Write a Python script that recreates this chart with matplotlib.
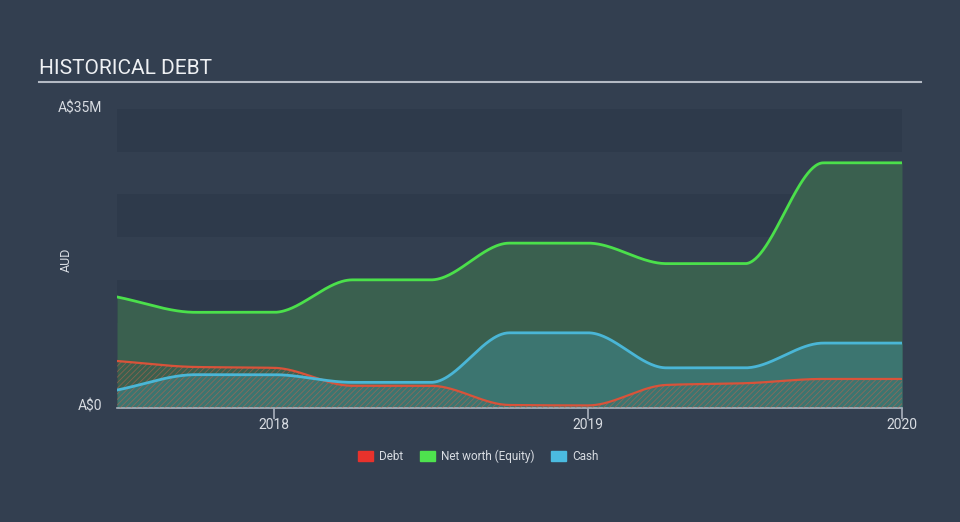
import numpy as np
import matplotlib.pyplot as plt
from matplotlib.patches import Patch

# Data (A$ millions), half-yearly reporting points
dates = [2017.5, 2017.75, 2018.0, 2018.25, 2018.5, 2018.75, 2019.0, 2019.25, 2019.5, 2019.75, 2020.0]
debt = [5.5, 4.8, 4.7, 2.6, 2.6, 0.35, 0.3, 2.7, 2.9, 3.4, 3.4]
equity = [13.0, 11.2, 11.2, 15.0, 15.0, 19.3, 19.3, 16.9, 16.9, 28.7, 28.7]
cash = [2.1, 3.9, 3.9, 3.0, 3.0, 8.8, 8.8, 4.7, 4.7, 7.6, 7.6]

xticks = [2018, 2019, 2020]
xticklabels = ['2018', '2019', '2020']

BG = '#333f50'
BAND = '#2e3a4b'
TXT = '#d8dce2'


def smooth(x, y, n=60):
    # monotone cubic (Fritsch-Carlson) drawing of the curve between points
    x = np.asarray(x, float)
    y = np.asarray(y, float)
    h = np.diff(x)
    d = np.diff(y) / h
    m = np.zeros_like(y)
    m[0], m[-1] = d[0], d[-1]
    for i in range(1, len(y) - 1):
        if d[i - 1] * d[i] > 0:
            w1 = 2 * h[i] + h[i - 1]
            w2 = h[i] + 2 * h[i - 1]
            m[i] = (w1 + w2) / (w1 / d[i - 1] + w2 / d[i])
    xs, ys = [], []
    for i in range(len(x) - 1):
        t = np.linspace(0, 1, n, endpoint=False)
        h00 = 2 * t**3 - 3 * t**2 + 1
        h10 = t**3 - 2 * t**2 + t
        h01 = -2 * t**3 + 3 * t**2
        h11 = t**3 - t**2
        xs.append(x[i] + t * h[i])
        ys.append(h00 * y[i] + h10 * h[i] * m[i] + h01 * y[i + 1] + h11 * h[i] * m[i + 1])
    xs.append([x[-1]])
    ys.append([y[-1]])
    return np.concatenate(xs), np.concatenate(ys)


plt.rcParams['font.family'] = ['Roboto', 'DejaVu Sans']
plt.rcParams['hatch.linewidth'] = 0.6

fig = plt.figure(figsize=(9.6, 5.22), dpi=100, facecolor=BG)
ax = fig.add_axes([117 / 960, 114 / 522, 785 / 960, 299 / 522])
ax.set_facecolor(BG)

# horizontal bands, darker every other 5M
for lo in [0, 10, 20, 30]:
    ax.axhspan(lo, lo + 5, color=BAND, lw=0, zorder=0)

xe, ye = smooth(dates, equity)
xc, yc = smooth(dates, cash)
xd, yd = smooth(dates, debt)

ax.fill_between(xe, 0, ye, color='#3a604f', lw=0, zorder=1)
ax.fill_between(xc, 0, yc, color='#3c7570', lw=0, zorder=2)
ax.fill_between(xd, 0, yd, facecolor='none', edgecolor='#c8634a', hatch='//////', lw=0, zorder=3, alpha=0.55)
ax.plot(xe, ye, color='#4be04b', lw=2, zorder=5)
ax.plot(xc, yc, color='#4ab6d6', lw=2, zorder=5)
ax.plot(xd, yd, color='#d9533a', lw=1.6, zorder=4)

ax.set_xlim(2017.5, 2020.0)
ax.set_ylim(0, 35)
for s in ['top', 'right', 'left']:
    ax.spines[s].set_visible(False)
ax.spines['bottom'].set_color('#a9b1bd')
ax.spines['bottom'].set_linewidth(1.2)
ax.set_xticks(xticks)
ax.set_xticklabels(xticklabels)
ax.tick_params(axis='x', colors='#a9b1bd', length=8, width=1.2, labelcolor=TXT, labelsize=10, pad=-1)
ax.set_yticks([])

fig.text(102 / 960, 1 - 108 / 522, 'A$35M', color=TXT, fontsize=10, ha='right', va='center')
fig.text(102 / 960, 1 - 406 / 522, 'A$0', color=TXT, fontsize=10, ha='right', va='center')
fig.text(66 / 960, 1 - 260 / 522, 'AUD', color=TXT, fontsize=9, rotation=90, ha='center', va='center')

fig.text(39 / 960, 1 - 69 / 522, 'HISTORICAL DEBT', color='#eef0f3', fontsize=15, ha='left', va='center')
fig.add_artist(plt.Line2D([39 / 960, 921 / 960], [1 - 82 / 522, 1 - 82 / 522], color='#b4bac4', lw=1.5))

handles = [Patch(color='#e8322c', label='Debt'),
           Patch(color='#4ee24e', label='Net worth (Equity)'),
           Patch(color='#4bbbe0', label='Cash')]
fig.legend(handles=handles, loc='center', bbox_to_anchor=(478 / 960, 1 - 456 / 522), ncol=3,
           frameon=False, fontsize=8.5, labelcolor=TXT, handlelength=1.3, handleheight=0.9,
           columnspacing=1.4, handletextpad=0.5)

fig.savefig('out.png', dpi=100, facecolor=BG)
